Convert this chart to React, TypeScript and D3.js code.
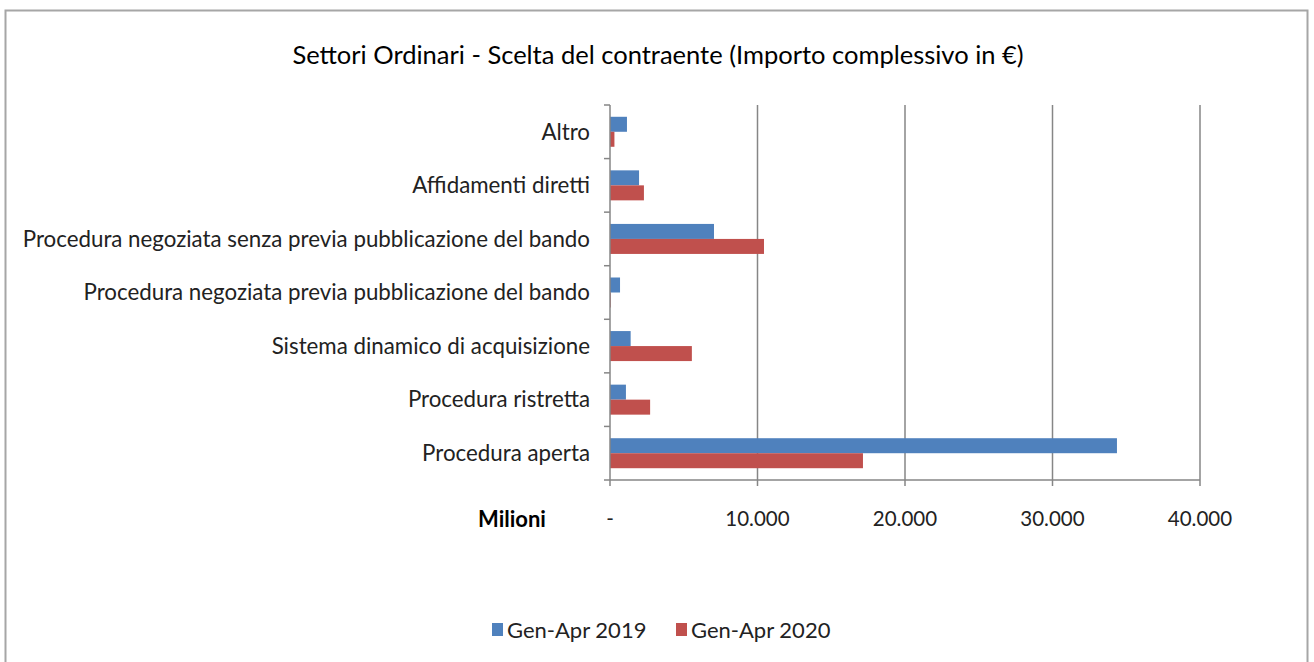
import * as d3 from "d3";

const categories = [
  "Altro",
  "Affidamenti diretti",
  "Procedura negoziata senza previa pubblicazione del bando",
  "Procedura negoziata previa pubblicazione del bando",
  "Sistema dinamico di acquisizione",
  "Procedura ristretta",
  "Procedura aperta",
];
const values2019 = [1150, 1970, 7050, 680, 1400, 1080, 34370];
const values2020 = [300, 2300, 10440, 50, 5550, 2720, 17150];
const seriesNames = ["Gen-Apr 2019", "Gen-Apr 2020"];
const seriesColors = ["#4F81BD", "#C0504D"];
const xTicks = [0, 10000, 20000, 30000, 40000];

const W = 1314;
const H = 662;
const FONT = "Lato, 'Liberation Sans', sans-serif";

const App = () => {
  const margin = { left: 610, right: 114, top: 105, bottom: 182 };
  const x = d3
    .scaleLinear()
    .domain([0, 40000])
    .range([margin.left, W - margin.right]);
  const y = d3
    .scaleBand()
    .domain(categories)
    .range([margin.top, H - margin.bottom]);
  const barH = y.bandwidth() * 0.28;
  const fmt = (d) => (d === 0 ? "-" : d3.format(",")(d).replace(/,/g, "."));
  const bottom = H - margin.bottom;

  return (
    <svg
      width={W}
      height={H}
      style={{ position: "absolute", left: 0, top: 0, background: "#fff" }}
      fontFamily={FONT}
    >
      {/* outer frame */}
      <rect
        x={5.5}
        y={10.5}
        width={1302}
        height={700}
        fill="#fff"
        stroke="#a6a6a6"
        strokeWidth={2}
      />

      <text x={658} y={64} textAnchor="middle" fontSize={25.5} fill="#000">
        Settori Ordinari - Scelta del contraente (Importo complessivo in €)
      </text>

      {/* gridlines */}
      {xTicks.slice(1).map((t) => (
        <line
          key={t}
          x1={x(t)}
          x2={x(t)}
          y1={margin.top}
          y2={bottom + 6}
          stroke="#868686"
          strokeWidth={1.5}
        />
      ))}

      {/* bars */}
      {categories.map((c, i) => {
        const yc = y(c) + y.bandwidth() / 2;
        return (
          <g key={c}>
            <rect
              x={x(0)}
              y={yc - barH}
              width={x(values2019[i]) - x(0)}
              height={barH}
              fill={seriesColors[0]}
            />
            <rect
              x={x(0)}
              y={yc}
              width={x(values2020[i]) - x(0)}
              height={barH}
              fill={seriesColors[1]}
            />
            <text
              x={590}
              y={yc}
              dy="0.35em"
              textAnchor="end"
              fontSize={22.3}
              fill="#222"
            >
              {c}
            </text>
          </g>
        );
      })}

      {/* y axis */}
      <line
        x1={x(0)}
        x2={x(0)}
        y1={margin.top}
        y2={bottom + 6}
        stroke="#868686"
        strokeWidth={1.5}
      />
      {d3.range(categories.length + 1).map((i) => {
        const yy = margin.top + i * y.step();
        return (
          <line
            key={i}
            x1={x(0) - 6}
            x2={x(0)}
            y1={yy}
            y2={yy}
            stroke="#868686"
            strokeWidth={1.5}
          />
        );
      })}

      {/* x axis */}
      <line
        x1={x(0)}
        x2={x(40000)}
        y1={bottom}
        y2={bottom}
        stroke="#868686"
        strokeWidth={1.5}
      />
      {xTicks.map((t) => (
        <text
          key={t}
          x={x(t)}
          y={bottom + 46}
          textAnchor="middle"
          fontSize={20.5}
          fill="#222"
        >
          {fmt(t)}
        </text>
      ))}
      <text
        x={512}
        y={bottom + 47}
        textAnchor="middle"
        fontSize={22}
        fontWeight="bold"
        fill="#000"
      >
        Milioni
      </text>

      {/* legend */}
      {seriesNames.map((s, i) => {
        const lx = 492 + i * 184;
        return (
          <g key={s}>
            <rect x={lx} y={623} width={11} height={13} fill={seriesColors[i]} />
            <text x={lx + 15} y={638} fontSize={22} fill="#222">
              {s}
            </text>
          </g>
        );
      })}
    </svg>
  );
};

export default App;
